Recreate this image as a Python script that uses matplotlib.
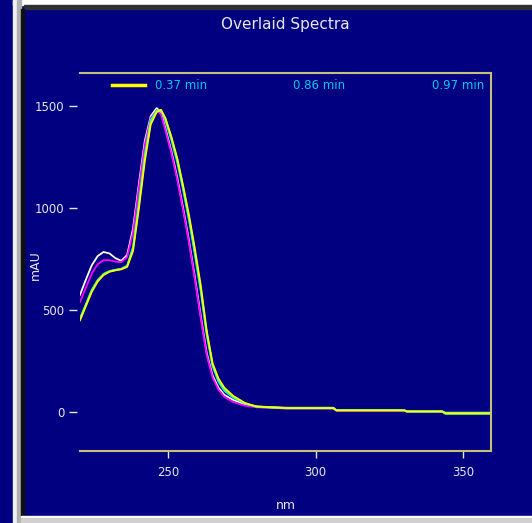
import matplotlib
matplotlib.use("Agg")
import matplotlib.pyplot as plt
from matplotlib.patches import Rectangle

NAVY = "#000080"
FRAME = "#c8c078"
TXT = "#e8e8e8"
LEG = "#00c8e8"

title = "Overlaid Spectra"
legend_labels = ["0.37 min", "0.86 min", "0.97 min"]

wl = [220, 222, 224, 226, 228, 230, 232, 234, 236, 238, 240, 242, 244, 246, 247.5,
      249, 251, 253, 255, 257, 259, 261, 263, 265, 267, 269, 272, 276, 280, 290,
      306, 307, 330, 331, 343, 344, 360]

white = [575, 650, 720, 765, 785, 778, 755, 742, 770, 900, 1120, 1330, 1450, 1490, 1470,
         1390, 1280, 1150, 1000, 840, 660, 470, 290, 180, 120, 85, 60, 38, 28, 22,
         22, 10, 10, 3, 3, -4, -4]
magenta = [540, 610, 680, 725, 745, 745, 738, 735, 760, 880, 1100, 1310, 1440, 1478, 1460,
           1380, 1270, 1140, 990, 830, 650, 460, 280, 170, 110, 75, 50, 32, 24, 18,
           18, 7, 7, 2, 2, -7, -7]
cyan = [460, 530, 600, 648, 678, 692, 698, 703, 718, 810, 1030, 1260, 1430, 1478, 1478,
        1430, 1335, 1225, 1090, 940, 770, 590, 380, 225, 150, 105, 72, 42, 26, 19,
        19, 10, 10, 4, 4, -2, -2]
green = [455, 525, 595, 645, 676, 690, 697, 702, 716, 800, 1015, 1245, 1420, 1475, 1480,
         1437, 1345, 1238, 1102, 955, 788, 605, 392, 232, 160, 113, 76, 44, 27, 20,
         20, 9, 9, 3, 3, -8, -8]
yellow = [450, 520, 590, 640, 672, 688, 695, 700, 712, 790, 1000, 1230, 1410, 1470, 1482,
          1440, 1350, 1245, 1110, 965, 800, 620, 400, 240, 165, 120, 80, 45, 28, 20,
          20, 9, 9, 4, 4, -5, -5]

series = [(white, "#ffffff"), (magenta, "#ff00ff"), (cyan, "#00ffff"),
          (green, "#40ff40"), (yellow, "#ffff00")]

W, H = 532, 523
fig = plt.figure(figsize=(W / 100, H / 100), dpi=100, facecolor=NAVY)

# window frame bits
def box(x0, y0, x1, y1, c):
    fig.patches.append(Rectangle((x0 / W, 1 - y1 / H), (x1 - x0) / W, (y1 - y0) / H,
                                 transform=fig.transFigure, color=c, zorder=0))

box(13, 0, 532, 5, "#ffffff")
box(24, 5, 532, 9, "#303030")
box(13, 0, 17, 523, "#f0f0f0")
box(17, 0, 21, 523, "#b0b0b0")
box(21, 9, 24, 516, "#101010")
box(21, 516, 532, 518, "#ffffff")
box(21, 518, 532, 523, "#d0d0d0")

ax = fig.add_axes([80 / W, 1 - 451 / H, (491 - 80) / W, (451 - 73) / H])
ax.set_facecolor(NAVY)

for vals, c in series:
    ax.plot(wl, vals, color=c, lw=1.3)

ax.set_xlim(220, 359.5)
ax.set_ylim(-190, 1662)

for s in ["top", "right", "bottom"]:
    ax.spines[s].set_color(FRAME)
    ax.spines[s].set_linewidth(1.5)
ax.spines["left"].set_position(("outward", 2))
ax.spines["left"].set_visible(False)

ax.set_xticks([250, 300, 350])
ax.set_yticks([0, 500, 1000, 1500])
ax.tick_params(axis="x", colors=TXT, length=5, width=1, pad=6, labelsize=8.5)
ax.tick_params(axis="y", colors=TXT, length=6, width=1, pad=3, labelsize=8.5)

ax.set_xlabel("nm", color=TXT, fontsize=9, labelpad=14)
fig.text(35 / W, 1 - 265 / H, "mAU", color=TXT, fontsize=9, rotation=90,
         ha="center", va="center")
fig.text(285 / W, 1 - 24 / H, title, color=TXT, fontsize=11, ha="center", va="center")

# legend across the top
ax.plot([32 / 411, 65 / 411], [0.968, 0.968], transform=ax.transAxes,
        color="#ffff00", lw=2.5, clip_on=False)
for xp, lab in zip([75, 213, 352], legend_labels):
    ax.text(xp / 411, 0.968, lab, transform=ax.transAxes, color=LEG,
            fontsize=8.5, va="center", ha="left", clip_on=True)

fig.savefig("out.png", dpi=100, facecolor=NAVY)
